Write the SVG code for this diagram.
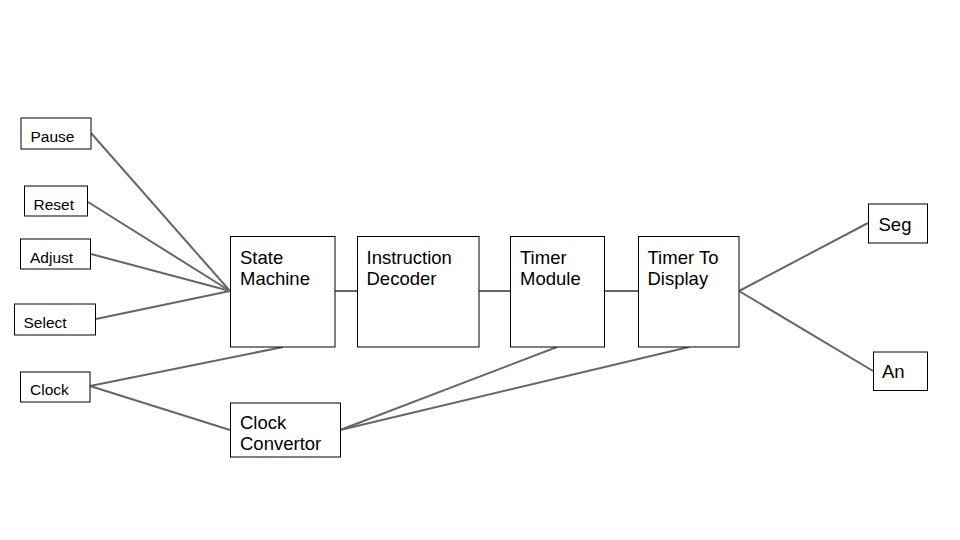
<svg xmlns="http://www.w3.org/2000/svg" width="960" height="540" viewBox="0 0 960 540">
<style>
.box{fill:#fff;stroke:#000;stroke-width:1}
.t{font-family:"Liberation Sans",Arial,sans-serif;fill:#000}
.s{font-size:15.5px}
.b{font-size:18.5px}
.c{stroke:#666;stroke-width:2;fill:none}
</style>
<rect width="960" height="540" fill="#fff"/>
<g id="connectors">
<line class="c" x1="91" y1="133" x2="230" y2="291"/>
<line class="c" x1="88" y1="202" x2="230" y2="291"/>
<line class="c" x1="91" y1="254" x2="230" y2="291"/>
<line class="c" x1="96" y1="319" x2="230" y2="291"/>
<line class="c" x1="90" y1="386" x2="283" y2="347"/>
<line class="c" x1="90" y1="386" x2="230" y2="430"/>
<line class="c" x1="335" y1="291" x2="357" y2="291"/>
<line class="c" x1="479" y1="291" x2="510" y2="291"/>
<line class="c" x1="604" y1="291" x2="638" y2="291"/>
<line class="c" x1="340" y1="430" x2="557" y2="347"/>
<line class="c" x1="340" y1="430" x2="689" y2="347"/>
<line class="c" x1="739" y1="291" x2="868" y2="223"/>
<line class="c" x1="739" y1="291" x2="873" y2="371"/>
</g>
<g id="pause"><rect class="box" x="21" y="118" width="70" height="31"/><text class="t s" x="30.5" y="141.5">Pause</text></g>
<g id="reset"><rect class="box" x="24.5" y="186" width="63" height="30"/><text class="t s" x="33.5" y="209.5">Reset</text></g>
<g id="adjust"><rect class="box" x="20.5" y="239" width="70" height="30"/><text class="t s" x="30" y="262.5">Adjust</text></g>
<g id="select"><rect class="box" x="14.5" y="304" width="81" height="31"/><text class="t s" x="23.5" y="328">Select</text></g>
<g id="clock"><rect class="box" x="20.5" y="372" width="69.5" height="30"/><text class="t s" x="30" y="395">Clock</text></g>
<g id="state-machine"><rect class="box" x="230.5" y="236.5" width="104.5" height="110.5"/><text class="t b" x="240" y="263.5">State</text><text class="t b" x="240" y="285">Machine</text></g>
<g id="instruction-decoder"><rect class="box" x="357.5" y="236.5" width="121.5" height="110.5"/><text class="t b" x="366.5" y="263.5">Instruction</text><text class="t b" x="366.5" y="285">Decoder</text></g>
<g id="timer-module"><rect class="box" x="510.5" y="236.5" width="94" height="110.5"/><text class="t b" x="520" y="263.5">Timer</text><text class="t b" x="520" y="285">Module</text></g>
<g id="timer-to-display"><rect class="box" x="638.5" y="236.5" width="100.5" height="110.5"/><text class="t b" x="647.5" y="263.5">Timer To</text><text class="t b" x="647.5" y="285">Display</text></g>
<g id="clock-convertor"><rect class="box" x="230.5" y="403" width="110" height="54"/><text class="t b" x="240" y="428.5">Clock</text><text class="t b" x="240" y="450">Convertor</text></g>
<g id="seg"><rect class="box" x="868.5" y="204" width="59" height="39"/><text class="t b" x="878.5" y="231">Seg</text></g>
<g id="an"><rect class="box" x="873.5" y="352" width="54" height="38.5"/><text class="t b" x="882" y="377.5">An</text></g>
</svg>
